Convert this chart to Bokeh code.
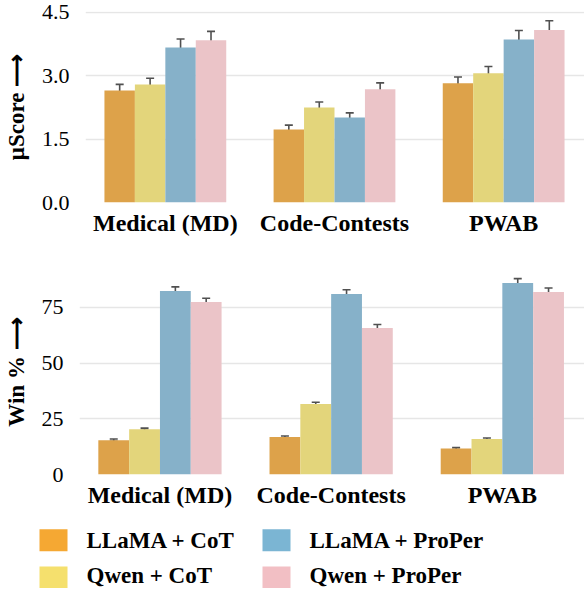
from bokeh.plotting import figure
from bokeh.models import ColumnDataSource, Range1d, FixedTicker, Whisker, TeeHead
from bokeh.layouts import column
from bokeh.embed import file_html
from bokeh.resources import INLINE
from bokeh.core.properties import value

categories = ["Medical (MD)", "Code-Contests", "PWAB"]
series = ["LLaMA + CoT", "Qwen + CoT", "LLaMA + ProPer", "Qwen + ProPer"]
bar_colors = ["#DDA24A", "#E3D57B", "#86B1C9", "#EBC4C8"]
legend_colors = ["#F5A833", "#F5E06D", "#7BB5D3", "#F2BFC4"]

# µScore values [series][category]
score_vals = [
    [2.65, 1.73, 2.82],
    [2.79, 2.25, 3.06],
    [3.67, 2.01, 3.86],
    [3.84, 2.68, 4.08],
]
score_err = [
    [0.145, 0.10, 0.15],
    [0.15, 0.13, 0.16],
    [0.20, 0.11, 0.21],
    [0.21, 0.15, 0.22],
]
score_ticks = [0.0, 1.5, 3.0, 4.5]

# Win % values [series][category]
win_vals = [
    [15.4, 16.8, 11.7],
    [20.3, 31.6, 15.9],
    [82.3, 81.0, 85.9],
    [77.4, 65.7, 81.9],
]
win_err = [
    [0.5, 0.5, 0.4],
    [0.5, 0.8, 0.5],
    [1.9, 1.9, 2.0],
    [1.7, 1.6, 1.8],
]
win_ticks = [0, 25, 50, 75]

FONT = "Liberation Serif"
BW = 0.18
W = 584


def make_panel(vals, errs, ticks, tick_fmt, ylabel, yend, height, bl, bt, bb, xr):
    p = figure(width=W, height=height, output_backend="svg", toolbar_location=None,
               x_range=Range1d(*xr), y_range=Range1d(0, yend),
               min_border_left=bl, min_border_right=0, min_border_top=bt, min_border_bottom=bb)
    p.frame_align = False
    p.outline_line_color = None
    p.xgrid.grid_line_color = None
    p.ygrid.grid_line_color = "#E6E6E6"
    p.ygrid.grid_line_width = 1.3
    for j in range(len(series)):
        xs = [i + (j - 1.5) * BW for i in range(len(categories))]
        src = ColumnDataSource(dict(x=xs, top=vals[j],
                                    upper=[v + e for v, e in zip(vals[j], errs[j])],
                                    lower=[v - e for v, e in zip(vals[j], errs[j])]))
        p.vbar(x="x", top="top", width=BW, source=src, fill_color=bar_colors[j], line_color=None)
        w = Whisker(base="x", upper="upper", lower="lower", source=src,
                    line_color="#505050", line_width=1.6,
                    upper_head=TeeHead(size=8, line_color="#505050", line_width=1.6),
                    lower_head=TeeHead(size=8, line_color="#505050", line_width=1.6))
        p.add_layout(w)
    p.xaxis.ticker = FixedTicker(ticks=list(range(len(categories))))
    p.xaxis.major_label_overrides = {i: c for i, c in enumerate(categories)}
    p.xaxis.major_label_text_font = FONT
    p.xaxis.major_label_text_font_style = "bold"
    p.xaxis.major_label_text_font_size = "24px"
    p.xaxis.major_label_text_color = "black"
    p.xaxis.major_label_standoff = 1
    p.yaxis.ticker = FixedTicker(ticks=ticks)
    p.yaxis.major_label_overrides = {t: tick_fmt(t) for t in ticks}
    p.yaxis.major_label_text_font = FONT
    p.yaxis.major_label_text_font_size = "22px"
    p.yaxis.major_label_text_color = "black"
    p.yaxis.major_label_standoff = 10
    p.yaxis.axis_label = ylabel
    p.yaxis.axis_label_text_font = FONT
    p.yaxis.axis_label_text_font_style = "bold"
    p.yaxis.axis_label_text_font_size = "23px"
    p.yaxis.axis_label_text_color = "black"
    p.yaxis.axis_label_standoff = 10
    for ax in (p.xaxis, p.yaxis):
        ax.axis_line_color = None
        ax.major_tick_line_color = None
        ax.minor_tick_line_color = None
    return p


top = make_panel(score_vals, score_err, score_ticks, lambda t: f"{t:.1f}", "μScore ⟶",
                 4.52, 247, 84, 11, 45, (-0.472, 2.478))
bottom = make_panel(win_vals, win_err, win_ticks, lambda t: f"{t:d}", "Win % ⟶",
                    92, 269, 76, 22, 42, (-0.47, 2.48))

# legend panel
LH = 72
leg = figure(width=W, height=LH, output_backend="svg", toolbar_location=None,
             x_range=Range1d(0, W), y_range=Range1d(0, LH),
             min_border=0, x_axis_location=None, y_axis_location=None)
leg.frame_align = False
leg.outline_line_color = None
leg.grid.grid_line_color = None
sq_x = [53, 53, 276, 276]
sq_y = [LH - 23.7, LH - 61, LH - 23.7, LH - 61]
tx_x = [86, 86, 309, 309]
tx_y = [LH - 23.7, LH - 59, LH - 23.7, LH - 59]
lsrc = ColumnDataSource(dict(x=sq_x, y=sq_y, tx=tx_x, ty=tx_y, name=series, color=legend_colors))
leg.rect(x="x", y="y", width=28, height=22, fill_color="color", line_color=None, source=lsrc)
leg.text(x="tx", y="ty", text="name", source=lsrc, text_font=value(FONT), text_font_style="bold",
         text_font_size="23px", text_baseline="middle", text_color="black")

layout = column(top, bottom, leg, spacing=0)
open("out.html", "w").write(file_html(layout, INLINE))
